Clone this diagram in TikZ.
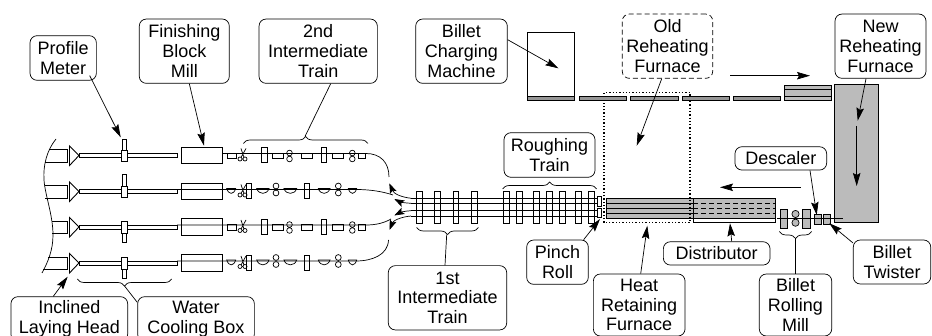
\documentclass[tikz,border=0pt]{standalone}
\usepackage{fontspec}
\setmainfont{Liberation Sans}
\usetikzlibrary{arrows.meta,calc,decorations.pathreplacing}
\definecolor{furnacegray}{RGB}{187,187,187}
\definecolor{stripgray}{RGB}{150,150,150}
\tikzset{
	lbl/.style={draw,rounded corners=7pt,align=center,inner sep=0pt,line width=0.7pt,
		font=\fontsize{18}{19.8}\selectfont},
	arw/.style={-{Stealth[length=13pt,width=7.5pt,inset=2pt]},line width=0.7pt},
	arwcurve/.style={-{Stealth[length=10pt,width=7pt,inset=2pt]},line width=0.7pt},
	brk/.style={decorate,decoration={brace,amplitude=7pt},line width=0.7pt},
	dotwall/.style={line width=1.2pt,dash pattern=on 1.3pt off 2pt},
	longdash/.style={dash pattern=on 5pt off 3pt},
	strip/.style={fill=stripgray,line width=0.7pt}
}
% stands of one train, drawn around the row line
\newcommand{\tallstand}[1]{\draw (#1,-6) rectangle ++(5.5,15);}
\newcommand{\smallstand}[2]{\draw (#1,-0.5) rectangle (#2,5);}
\newcommand{\bowlstand}[2]{\draw (#1,-1) .. controls +(2,6.5) and +(-2,6.5) .. (#2,-1) -- cycle;}
\newcommand{\rollsa}[1]{\draw (#1,-0.5) circle (2.8) (#1,5.5) circle (2.8);}
\newcommand{\rollsb}[1]{\draw (#1,-3.5) circle (2.9) (#1,3.5) circle (2.9);}
\newcommand{\shear}[1]{\draw (#1+2,5.5) circle (2) (#1+7,5.5) circle (2) (#1+3,4) -- (#1+8,-5) (#1+6,4) -- (#1+3,-5);}
% rows 1 and 3
\newcommand{\trainA}[1]{\begin{scope}[shift={(0,#1)}]
	\smallstand{227}{236} \shear{238} \tallstand{261.7} \smallstand{272}{283} \rollsa{289.5}
	\smallstand{301.7}{312.7} \tallstand{321} \smallstand{332.3}{343.3} \rollsa{352.3} \smallstand{358.3}{365.7}
\end{scope}}
% rows 2 and 4
\newcommand{\trainB}[1]{\begin{scope}[shift={(0,#1)}]
	\bowlstand{226.7}{235.7} \shear{238} \tallstand{246} \bowlstand{256.7}{269} \rollsb{276}
	\bowlstand{284}{296.7} \tallstand{304.3} \bowlstand{318.3}{330} \rollsb{338.3} \bowlstand{348.3}{356.7}
\end{scope}}
% laying head, water box and block mill of a row: y, left ends of the two lines, stub
\newcommand{\headrow}[5]{\begin{scope}[shift={(0,#1)}]
	\draw (#2,-4) -- (67.3,-4) -- (67.3,8.5) -- (#3,8.5);
	\draw [line width=0.9pt] (69.5,-7.5) -- (79,2) -- (69.5,12) -- cycle;
	\draw (79,0) rectangle (177,4);
	\draw (122.7,#4) rectangle (126.7,#5);
	\draw [fill=white] (121.7,-3.6) rectangle (127.7,8);
	\draw (181.7,-6.5) rectangle (222.3,10);
\end{scope}}

\begin{document}
\begin{tikzpicture}[x=1pt,y=1pt,yscale=-1,xscale=1,line width=0.7pt]
	\useasboundingbox (0,0) rectangle (932,336);
	\clip (0,0) rectangle (932,336);

	%Shape: wavy edge of the coil area
	\draw (56,139) .. controls (47,150) and (43,165) .. (44,180) .. controls (45,195) and (53,215) .. (53,235) .. controls (53,250) and (48,262) .. (42,273);

	%Rows of the finishing end
	\headrow{153.5}{50}{45}{-14.5}{-3.6}
	\headrow{189.5}{45}{45}{-14.8}{-3.6}
	\headrow{225}{52.3}{52}{8}{17}
	\headrow{261}{48}{42.7}{8}{17}
	\trainA{153.5}
	\trainB{189.5}
	\trainA{225}
	\trainB{261}

	%Row lines with their curves
	\draw (222.3,153.5) -- (366,153.5) .. controls (380,153.5) and (389,162) .. (389,177);
	\draw (177,189.5) -- (356,189.5) .. controls (372,189.5) and (384,192) .. (393,195);
	\draw (177,225) -- (366,225) .. controls (376,225) and (384,223) .. (391,219);
	\draw (177,261) -- (356,261) .. controls (372,261) and (388,255) .. (388.5,240);

	%Lines through the roughing end
	\coordinate (linea) at (411,198.3);
	\coordinate (lineb) at (411,203.3);
	\coordinate (linec) at (411,210.7);
	\coordinate (lined) at (411,216);
	\draw (linea) -- (598,198.3);
	\draw (lineb) -- (598,203.3);
	\draw (linec) -- (598,210.7);
	\draw (lined) -- (598,216);
	\coordinate (tipa) at (389.3,183.3);
	\coordinate (tipb) at (394.3,199);
	\coordinate (tipc) at (394.3,215.5);
	\coordinate (tipd) at (389.5,230);
	\draw [arwcurve] (linea) .. controls (401,197) and (394,194) .. (tipa);
	\draw [arwcurve] (lineb) .. controls (405,203) and (400,202) .. (tipb);
	\draw [arwcurve] (linec) .. controls (405,211) and (400,212.5) .. (tipc);
	\draw [arwcurve] (lined) .. controls (400,217) and (393,221) .. (tipd);

	%Stands of the 1st intermediate train
	\draw (416.7,191.7) rectangle (422.3,223);
	\draw (434.7,191.7) rectangle (440.3,223);
	\draw (453,191.7) rectangle (458.7,223);
	\draw (471.3,191.7) rectangle (477,223);
	%Stands of the roughing train
	\draw (503.3,191.7) rectangle (509.3,223);
	\draw (516.3,191.7) rectangle (522.3,223);
	\draw (533.3,191.7) rectangle (539.3,223);
	\draw (546.3,191.7) rectangle (552.3,223);
	\draw (559.7,191.7) rectangle (565.7,223);
	\draw (575.7,191.7) rectangle (581.7,223);
	\draw (588.7,191.7) rectangle (594.7,223);
	%Pinch rolls
	\draw (597,196.7) rectangle (601.5,206);
	\draw (597,208) rectangle (601.5,217.3);

	%Heat retaining furnace
	\draw [fill=furnacegray] (606.5,198.5) rectangle (693.3,218.7);
	\draw [line width=1pt] (606.5,203.3) -- (693.3,203.3) (606.5,208.3) -- (693.3,208.3) (606.5,213.5) -- (693.3,213.5);
	%Distributor
	\fill [furnacegray] (693.3,198.7) rectangle (775.7,218.7);
	\draw [line width=0.9pt] (693.3,198.7) rectangle (775.7,222.7);
	\draw [line width=0.9pt] (693.3,218.7) -- (775.7,218.7);
	\draw [longdash,line width=0.9pt] (693.3,203.3) -- (775.7,203.3) (693.3,208.3) -- (775.7,208.3) (693.3,213.3) -- (775.7,213.3);
	%Old furnace outline
	\draw [dotwall] (604,222.7) -- (604,92.7) -- (690,92.7) -- (690,222.7) -- cycle;

	%Billet rolling mill, descaler and twister
	\draw [fill=furnacegray] (834.3,84.7) rectangle (878.3,222);
	\draw [fill=furnacegray] (780,209.3) rectangle (787.7,228.3);
	\draw [fill=furnacegray] (802.7,209.3) rectangle (810.7,228.3);
	\draw [fill=furnacegray] (795.5,214) circle (3.6) (795.5,222.7) circle (3.6);
	\draw [fill=furnacegray] (814,214) rectangle (821,224);
	\draw [fill=furnacegray] (823.3,214) rectangle (830.7,224);
	\draw (777.3,218.7) -- (842.7,218.7);

	%Billet charging side
	\draw (527.3,32.3) rectangle (574.7,96);
	\draw [strip] (527.3,96) rectangle (574.7,100);
	\draw [strip] (579.3,96) rectangle (626.7,100);
	\draw [strip] (630.3,96) rectangle (678,100);
	\draw [strip] (682,96) rectangle (729.3,100);
	\draw [strip] (733.3,96) rectangle (780.7,100);
	\draw [fill=furnacegray] (784.3,85.3) rectangle (831.7,100);
	\draw [line width=1pt] (784.3,89.3) -- (831.7,89.3) (784.3,96.7) -- (831.7,96.7);

	%Flow arrows
	\coordinate (flowtopa) at (730,75.7);
	\coordinate (flowtopb) at (810,75.7);
	\coordinate (flowdowna) at (856.7,126);
	\coordinate (flowdownb) at (856.7,186);
	\coordinate (flowlefta) at (800.7,187.3);
	\coordinate (flowleftb) at (720,187.3);
	\draw [arw] (flowtopa) -- (flowtopb);
	\draw [arw] (flowdowna) -- (flowdownb);
	\draw [arw] (flowlefta) -- (flowleftb);

	%Braces
	\draw [brk] (243.3,143.5) -- (368,143.5);
	\draw [brk] (171.7,279) -- (77.3,279);
	\draw [brk] (478.3,227.5) -- (416.7,227.5);
	\draw [brk] (502.7,189) -- (596.7,189);
	\draw [brk] (811.7,231.5) -- (779.3,231.5);

	% Text Node
	\draw (63.2,58) node (profile) [lbl,minimum width=66.3pt,minimum height=44.6pt] {Profile\\Meter};
	% Text Node
	\draw (184.3,51.2) node (finishing) [lbl,minimum width=90pt,minimum height=64.3pt] {Finishing\\Block\\Mill};
	% Text Node
	\draw (318.2,51.2) node (secondtrain) [lbl,minimum width=118.3pt,minimum height=64.3pt] {2nd\\Intermediate\\Train};
	% Text Node
	\draw (461.5,51.2) node (charging) [lbl,minimum width=91.6pt,minimum height=64.3pt] {Billet\\Charging\\Machine};
	% Text Node
	\draw (667.5,46.2) node (oldfurn) [lbl,longdash,minimum width=90.4pt,minimum height=64.3pt] {Old\\Reheating\\Furnace};
	% Text Node
	\draw (880.5,46.2) node (newfurn) [lbl,minimum width=91pt,minimum height=64.3pt] {New\\Reheating\\Furnace};
	% Text Node
	\draw (549.5,155) node (roughing) [lbl,minimum width=91pt,minimum height=44.6pt] {Roughing\\Train};
	% Text Node
	\draw (780.8,158.4) node (descaler) [lbl,minimum width=91.7pt,minimum height=23.3pt] {Descaler};
	% Text Node
	\draw (557.5,262.2) node (pinch) [lbl,minimum width=61.6pt,minimum height=44.3pt] {Pinch\\Roll};
	% Text Node
	\draw (447.5,297.8) node (firsttrain) [lbl,minimum width=118.4pt,minimum height=64.3pt] {1st\\Intermediate\\Train};
	% Text Node
	\draw (716.7,253.4) node (distributor) [lbl,minimum width=106.7pt,minimum height=23.3pt] {Distributor};
	% Text Node
	\draw (639.2,305) node (heat) [lbl,minimum width=91.7pt,minimum height=62pt] {Heat\\Retaining\\Furnace};
	% Text Node
	\draw (795.5,305) node (rollmill) [lbl,minimum width=72.4pt,minimum height=62pt] {Billet\\Rolling\\Mill};
	% Text Node
	\draw (892,262) node (twister) [lbl,minimum width=77.4pt,minimum height=44pt] {Billet\\Twister};
	% Text Node
	\draw (69.3,319) node (laying) [lbl,minimum width=116.7pt,minimum height=44.6pt] {Inclined\\Laying Head};
	% Text Node
	\draw (196,319) node (water) [lbl,minimum width=116.7pt,minimum height=44.6pt] {Water\\Cooling Box};

	%Arrows to the parts
	\coordinate (meterstub) at (120.7,137.3);
	\coordinate (millbox) at (204,145.7);
	\coordinate (chargebox) at (558.3,68.3);
	\coordinate (oldspot) at (636.7,145.7);
	\coordinate (newspot) at (857.7,120.7);
	\coordinate (pinchbox) at (600,219);
	\coordinate (heatbox) at (647.3,225.7);
	\coordinate (distbox) at (730,223.3);
	\coordinate (descbox) at (816.7,215);
	\coordinate (twistbox) at (829.3,223.3);
	\coordinate (headbox) at (67.7,276.7);
	\draw [arw] ($(profile.south east)+(-7,-5)$) -- (meterstub);
	\draw [arw] ($(finishing.south)+(5,0)$) -- (millbox);
	\draw [arw] ($(charging.north east)+(0,21)$) -- (chargebox);
	\draw [arw] ($(oldfurn.south)+(-5.8,0)$) -- (oldspot);
	\draw [arw] ($(newfurn.south)+(-14.5,0)$) -- (newspot);
	\draw [arw] ($(pinch.north east)+(-5,0)$) -- (pinchbox);
	\draw [arw] ($(heat.north)+(1.5,0)$) -- (heatbox);
	\draw [arw] ($(distributor.north)+(15,0)$) -- (distbox);
	\draw [arw] ($(descaler.south)+(29.2,0)$) -- (descbox);
	\draw [arw] ($(twister.north west)+(0,3.3)$) -- (twistbox);
	\draw [arw] ($(laying.north)+(-16,0)$) -- (headbox);

	%Lines from the braces
	\draw ($(secondtrain.south)+(12.5,0)$) -- (305,136.5);
	\draw (124.5,286) -- ($(water.north west)+(0,6)$);
	\draw (446.7,234.5) -- ($(firsttrain.north)+(-2.5,0)$);
	\draw (795.5,238.5) -- (rollmill.north);
\end{tikzpicture}
\end{document}
